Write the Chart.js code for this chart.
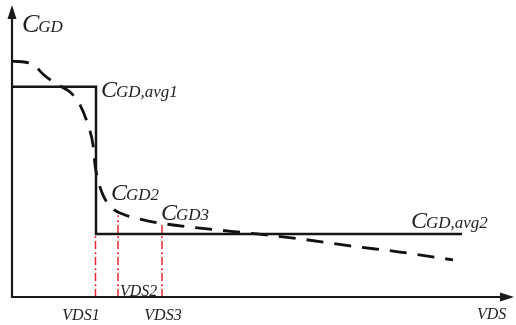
<!DOCTYPE html>
<html>
<head>
<meta charset="utf-8">
<script src="https://cdn.jsdelivr.net/npm/chart.js@4/dist/chart.umd.min.js"></script>
<style>
html,body{margin:0;padding:0;background:#fff;}
#wrap{width:516px;height:325px;position:relative;}
</style>
</head>
<body>
<div id="wrap"><canvas id="c" width="516" height="325"></canvas></div>
<script>
// Schematic data (arbitrary units, x: VDS 0..100, y: CGD 0..100)
const solidX = [0, 16.8, 16.8, 90];
const solidY = [72, 72, 21.6, 21.6];

const dashedX = [0, 4, 6.6, 9.2, 11.6, 13.6, 15.2, 16.2, 16.6, 17.2, 18.2, 20, 22.6, 25.6, 29.6, 37.6, 49, 57.6, 67.6, 77.6, 88.2];
const dashedY = [80.8, 79.8, 75.7, 72.6, 70.2, 65.8, 58.9, 52.1, 45.2, 40.1, 34.9, 30.5, 28.1, 26.7, 25.3, 23.6, 21.6, 19.9, 17.5, 15.4, 12.7];

const vdsNames = ['VDS1', 'VDS2', 'VDS3'];
const vdsX = [16.7, 21.2, 30];
const vdsTop = [21.6, 28, 25.5];

// text annotations: [main letter, subscript, x, y]
const labelMain = ['C', 'C', 'C', 'C', 'C'];
const labelSub = ['GD', 'GD,avg1', 'GD2', 'GD3', 'GD,avg2'];
const labelX = [2.0, 17.8, 19.8, 29.8, 79.8];
const labelY = [90.8, 68.5, 33.2, 26.4, 23.6];

const axisLabelText = ['VDS1', 'VDS2', 'VDS3', 'VDS'];
const axisLabelX = [13.8, 21.6, 30.2, 93];
const axisLabelY = [-7.9, 0.4, -7.9, -7.4];
const axisLabelAlign = ['center', 'left', 'center', 'left'];

const pts = (xs, ys) => xs.map((x, i) => ({x: x, y: ys[i]}));

const datasets = [
  {data: pts(solidX, solidY), borderColor: '#151515', borderWidth: 2.5, tension: 0},
  {data: pts(dashedX, dashedY), borderColor: '#111', borderWidth: 2.8, borderDash: [17, 11], cubicInterpolationMode: 'monotone'}
];
vdsX.forEach((x, i) => {
  datasets.push({data: [{x: x, y: 0}, {x: x, y: vdsTop[i]}], borderColor: '#e5262e', borderWidth: 1.5, borderDash: [8, 3, 2, 3]});
});
datasets.forEach(d => { d.showLine = true; d.pointRadius = 0; d.fill = false; });

const drawPlugin = {
  id: 'schematic',
  afterDraw(chart) {
    const ctx = chart.ctx;
    const a = chart.chartArea;
    const xs = chart.scales.x, ys = chart.scales.y;
    ctx.save();
    // axes
    ctx.strokeStyle = '#1a1a1a';
    ctx.fillStyle = '#1a1a1a';
    ctx.lineWidth = 2.2;
    const ox = xs.getPixelForValue(0), oy = ys.getPixelForValue(0);
    ctx.beginPath();
    ctx.moveTo(ox, oy + 1);
    ctx.lineTo(ox, a.top + 8);
    ctx.moveTo(ox - 1, oy);
    ctx.lineTo(a.right - 8, oy);
    ctx.stroke();
    // arrow heads
    ctx.beginPath();
    ctx.moveTo(ox, a.top);
    ctx.lineTo(ox - 4.5, a.top + 14);
    ctx.lineTo(ox + 4.5, a.top + 14);
    ctx.closePath();
    ctx.fill();
    ctx.beginPath();
    ctx.moveTo(a.right + 2, oy);
    ctx.lineTo(a.right - 12, oy - 4.5);
    ctx.lineTo(a.right - 12, oy + 4.5);
    ctx.closePath();
    ctx.fill();

    // C labels
    ctx.fillStyle = '#1e1e1e';
    ctx.textBaseline = 'alphabetic';
    ctx.textAlign = 'left';
    labelMain.forEach((m, i) => {
      const px = xs.getPixelForValue(labelX[i]);
      const py = ys.getPixelForValue(labelY[i]);
      const big = i === 0 ? 26 : 24;
      ctx.font = 'italic ' + big + 'px "Liberation Serif"';
      ctx.fillText(m, px, py);
      const w = ctx.measureText(m).width;
      ctx.font = 'italic 17px "Liberation Serif"';
      ctx.fillText(labelSub[i], px + w - 1, py);
    });
    // axis labels
    ctx.font = 'italic 16px "Liberation Serif"';
    axisLabelText.forEach((t, i) => {
      ctx.textAlign = axisLabelAlign[i];
      ctx.fillText(t, xs.getPixelForValue(axisLabelX[i]), ys.getPixelForValue(axisLabelY[i]));
    });
    ctx.restore();
  }
};

new Chart(document.getElementById('c'), {
  type: 'scatter',
  data: {datasets: datasets},
  options: {
    responsive: false,
    animation: false,
    layout: {padding: {left: 12, right: 4, top: 5, bottom: 28}},
    plugins: {legend: {display: false}, tooltip: {enabled: false}},
    scales: {
      x: {type: 'linear', min: 0, max: 100, display: false},
      y: {type: 'linear', min: 0, max: 100, display: false}
    },
    elements: {line: {borderCapStyle: 'butt'}}
  },
  plugins: [drawPlugin]
});
</script>
</body>
</html>
